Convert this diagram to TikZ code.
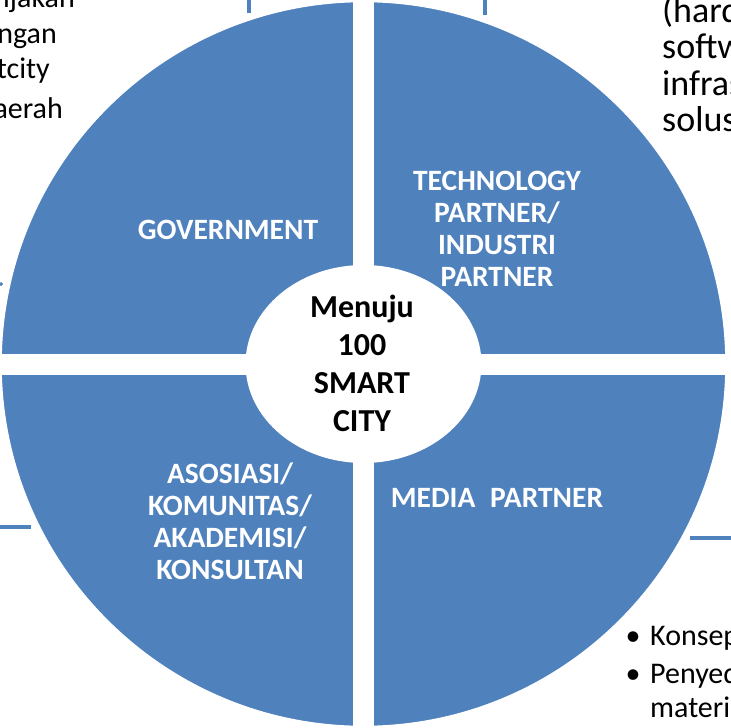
\documentclass[tikz,border=0pt]{standalone}
\usepackage{fontspec}
\setmainfont{Carlito}
\definecolor{qblue}{HTML}{4F81BD}
\begin{document}
\begin{tikzpicture}[x=1pt,y=-1pt,
  qtext/.style={text=white,font=\bfseries\fontsize{29.5}{32}\selectfont,align=center,inner sep=0pt},
  ctext/.style={text=black,font=\bfseries\fontsize{32}{38}\selectfont,align=center,inner sep=0pt},
  bgtext/.style={text=black,font=\fontsize{30}{35}\selectfont,inner sep=0pt},
  bgbig/.style={text=black,font=\fontsize{36}{35}\selectfont,inner sep=0pt},
  frag/.style={draw=qblue,line width=4.5pt}]
\useasboundingbox (0,0) rectangle (731,728);
\clip (0,0) rectangle (731,728);
% background text fragments
\node[bgtext,anchor=base east] (t1) at (75,8) {ijakan};
\node[bgtext,anchor=base east] (t2) at (57,43) {ngan};
\node[bgtext,anchor=base east] (t3) at (50,78) {tcity};
\node[bgtext,anchor=base east] (t4) at (63,118) {aerah};
\node[bgbig,anchor=base west] (r1) at (662,23) {(hardware,};
\node[bgbig,anchor=base west] (r2) at (662,58) {software,};
\node[bgbig,anchor=base west] (r3) at (662,95) {infrastruktur,};
\node[bgbig,anchor=base west] (r4) at (662,131) {solusi)};
\node[bgtext,anchor=base] (bu1) at (633,645) {\textbullet};
\node[bgtext,anchor=base west] (b1) at (650,645) {Konsep};
\node[bgtext,anchor=base] (bu2) at (633,683) {\textbullet};
\node[bgtext,anchor=base west] (b2) at (650,683) {Penyedia};
\node[bgtext,anchor=base west] (b3) at (650,717) {materi};
% fragments of other shapes
\coordinate (f1a) at (249,0); \coordinate (f1b) at (249,13);
\coordinate (f2a) at (485,0); \coordinate (f2b) at (485,15);
\coordinate (f3a) at (0,527); \coordinate (f3b) at (31,527);
\coordinate (f4a) at (690,538); \coordinate (f4b) at (731,538);
\coordinate (f5a) at (0,283); \coordinate (f5b) at (2,285);
\draw[frag] (f1a) -- (f1b);
\draw[frag] (f2a) -- (f2b);
\draw[frag] (f3a) -- (f3b);
\draw[frag] (f4a) -- (f4b);
\draw[frag,line width=3pt] (f5a) -- (f5b);
% main circle
\coordinate (c) at (363.5,364);
\fill[qblue,draw=white,line width=1.5pt] (c) circle[radius=362.5];
\fill[white] (353,0) rectangle (374,728);
\fill[white] (0,353.5) rectangle (731,375);
\fill[white] (c) ellipse[x radius=118, y radius=99];
% labels
\node[qtext] (gov) at (228,230) {GOVERNMENT};
\node[qtext] (tech) at (497,229) {TECHNOLOGY\\PARTNER/\\INDUSTRI\\PARTNER};
\node[qtext] (aso) at (230,521) {ASOSIASI/\\KOMUNITAS/\\AKADEMISI/\\KONSULTAN};
\node[qtext] (media) at (497,498) {MEDIA\hspace{0.5em}PARTNER};
\node[ctext] (center) at (362,363) {Menuju\\100\\SMART\\CITY};
\end{tikzpicture}
\end{document}
